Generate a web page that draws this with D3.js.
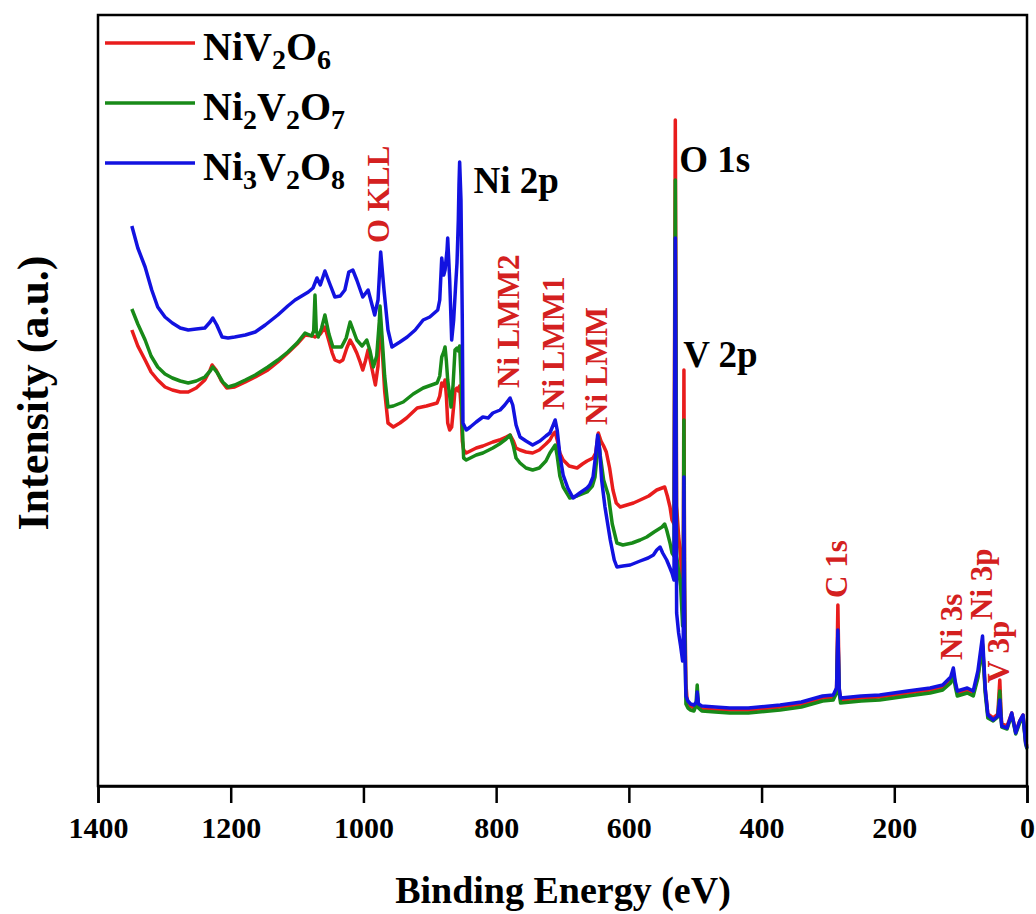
<!DOCTYPE html>
<html><head><meta charset="utf-8">
<script src="https://cdn.jsdelivr.net/npm/d3@7"></script>
<style>body{margin:0;background:#fff}svg{display:block}</style>
</head><body>
<svg id="c" width="1036" height="914"></svg>
<script>
// Binding energy (eV), intensity (a.u.)
const seriesNames = ["NiV2O6", "Ni2V2O7", "Ni3V2O8"];
const xTicks = [1400, 1200, 1000, 800, 600, 400, 200, 0];

const niv2o6 = [[1349,456],[1340,440],[1329,426],[1320,414],[1310,406],[1299,399],[1288,396],[1276,394],[1264,394],[1252,398],[1239,406],[1231,416],[1228,421],[1222,416],[1214,405],[1206,398],[1194,399],[1178,404],[1163,409],[1144,416],[1129,424],[1114,433],[1100,442],[1088,451],[1076,450],[1073,449],[1065,452],[1058,459],[1052,445],[1047,433],[1043,426],[1036,424],[1031,426],[1025,438],[1020,446],[1015,440],[1010,433],[1005,424],[1001,416],[997,425],[993,436],[988,420],[982,401],[978,420],[975,471],[972,440],[968,395],[963,363],[955,359],[945,363],[935,368],[919,378],[905,380],[889,383],[885,390],[882,403],[879,400],[877,406],[875,390],[873,363],[870,356],[867,359],[864,380],[862,396],[859,398],[857,395],[855,400],[853,380],[851,345],[849,336],[845,333],[839,335],[830,338],[820,340],[805,344],[795,346],[785,349],[779,351],[774,345],[770,338],[764,336],[755,334],[745,333],[735,336],[725,342],[719,346],[714,352],[711,354],[708,346],[704,333],[699,326],[690,320],[678,318],[670,322],[663,325],[654,328],[650,333],[646,353],[642,345],[638,340],[634,334],[629,318],[624,296],[619,283],[613,279],[603,281],[593,283],[583,286],[570,290],[558,296],[550,298],[546,299],[542,290],[538,279],[535,266],[532,262],[530,666],[528,280],[525,250],[522,230],[520,200],[518,220],[517,416],[516,200],[514,102],[512,84],[507,80],[502,78],[498,82],[497,90],[495,80],[490,77],[470,76],[448,76],[420,76],[372,79],[340,82],[308,88],[292,89],[287,97],[285,181],[283,97],[281,86],[250,88],[222,89],[180,93],[146,96],[127,99],[115,107],[111,113],[108,102],[105,93],[90,96],[81,93],[74,110],[67,142],[63,97],[59,72],[51,68],[44,72],[41,106],[39,72],[38,62],[30,60],[23,73],[17,54],[11,65],[6,71],[2,44],[0,40]];

const ni2v2o7 = [[1349,477],[1340,462],[1329,446],[1320,430],[1310,419],[1299,412],[1288,408],[1276,405],[1264,403],[1252,405],[1239,409],[1231,415],[1227,419],[1220,413],[1212,404],[1204,399],[1194,401],[1178,406],[1163,411],[1144,419],[1129,426],[1114,434],[1100,443],[1088,453],[1078,450],[1075,455],[1073,491],[1071,455],[1068,449],[1063,458],[1058,471],[1052,452],[1046,439],[1033,439],[1026,448],[1020,464],[1015,455],[1010,446],[1002,440],[995,446],[990,435],[985,419],[980,430],[976,465],[975,480],[972,450],[968,410],[963,379],[955,380],[940,384],[925,392],[910,398],[889,403],[885,410],[882,429],[879,434],[877,439],[875,425],[873,406],[870,390],[868,379],[865,400],[862,436],[859,438],[857,435],[855,440],[853,410],[851,360],[849,328],[845,326],[839,328],[830,331],[820,333],[805,338],[795,342],[785,347],[779,351],[774,340],[770,328],[764,323],[755,318],[745,316],[735,318],[725,325],[719,333],[714,338],[711,341],[708,330],[704,310],[699,299],[689,288],[678,290],[663,294],[655,300],[651,309],[648,330],[646,349],[643,330],[638,306],[631,291],[625,262],[618,243],[609,241],[595,243],[583,246],[573,249],[562,254],[550,259],[546,262],[543,256],[538,243],[535,233],[532,230],[530,606],[528,230],[525,215],[522,200],[519,160],[518,200],[517,366],[516,180],[514,82],[511,78],[507,76],[502,75],[499,80],[497,101],[495,78],[490,75],[470,74],[448,73],[420,73],[372,76],[340,79],[308,85],[292,86],[287,93],[285,152],[283,93],[281,83],[250,85],[222,86],[180,90],[146,93],[127,96],[115,103],[111,111],[108,99],[105,90],[90,93],[81,90],[74,108],[67,140],[63,93],[59,68],[51,65],[44,69],[41,95],[39,67],[38,59],[30,57],[23,71],[17,52],[11,63],[6,69],[2,42],[0,37]];

const ni3v2o8 = [[1349,560],[1340,538],[1329,519],[1319,496],[1310,479],[1299,469],[1288,463],[1276,458],[1264,456],[1252,457],[1239,458],[1231,464],[1227,468],[1221,461],[1213,449],[1204,448],[1194,449],[1178,451],[1163,454],[1148,461],[1129,471],[1114,480],[1103,486],[1093,490],[1083,494],[1076,498],[1070,508],[1065,501],[1058,515],[1050,501],[1043,489],[1035,490],[1028,496],[1022,514],[1016,516],[1010,506],[1001,489],[993,496],[987,481],[983,471],[978,486],[974,534],[969,496],[963,456],[957,439],[945,444],[934,449],[922,456],[910,466],[900,469],[888,476],[885,486],[882,528],[879,511],[877,516],[874,536],[873,548],[870,506],[867,446],[864,466],[861,501],[859,523],[857,566],[856,601],[855,624],[853,586],[851,466],[850,363],[845,356],[839,359],[830,364],[820,369],[812,368],[805,373],[794,376],[787,381],[779,388],[775,381],[770,361],[764,349],[755,345],[745,341],[734,345],[725,350],[719,353],[714,361],[711,366],[708,356],[704,331],[699,311],[692,298],[684,288],[674,293],[663,298],[659,301],[654,309],[650,331],[647,351],[644,336],[641,306],[636,279],[628,246],[622,226],[618,219],[609,220],[598,221],[583,225],[571,228],[563,231],[558,236],[553,239],[549,233],[543,226],[538,218],[535,213],[532,206],[530,548],[528,173],[525,153],[522,140],[519,125],[518,150],[517,309],[516,150],[514,90],[511,85],[507,82],[502,81],[498,84],[497,94],[495,82],[490,80],[470,79],[448,78],[420,78],[372,81],[340,84],[308,90],[292,91],[287,98],[285,156],[283,98],[281,88],[250,90],[222,91],[180,95],[146,98],[127,101],[115,109],[111,118],[108,104],[105,95],[90,98],[81,95],[74,115],[67,150],[63,98],[59,71],[51,66],[44,70],[41,86],[39,67],[38,60],[30,58],[23,73],[17,53],[11,65],[6,71],[2,43],[0,38]];

// peak annotations
const redLabels = [["O KLL",975],["Ni LMM2",779],["Ni LMM1",711],["Ni LMM",646],["C 1s",285],["Ni 3s",111],["Ni 3p",67],["V 3p",41]];
const redLabelLevel = [543,398,376,361,188,126,166,103];
const blackLabels = [["Ni 2p",834],["O 1s",524],["V 2p",518]];
const blackLabelLevel = [593,614,419];

const colors = ["#e81c1c", "#188a18", "#1212e0"];
const labelRed = "#d42020";
const FONT = "'Liberation Serif','Times New Roman',serif";

const svg = d3.select("#c");
const m = {left: 98, right: 1027, top: 15, bottom: 786};
const x = d3.scaleLinear().domain([1400, 0]).range([m.left, m.right]);
const y = d3.scaleLinear().domain([0, 771]).range([m.bottom, m.top]);

const line = d3.line().x(d => x(d[0])).y(d => y(d[1]));
[niv2o6, ni2v2o7, ni3v2o8].forEach((s, i) => {
  svg.append("path").datum(s).attr("d", line)
    .attr("fill", "none").attr("stroke", colors[i])
    .attr("stroke-width", 3.5).attr("stroke-linejoin", "round");
});

// frame
svg.append("rect").attr("x", m.left).attr("y", m.top)
  .attr("width", m.right - m.left).attr("height", m.bottom - m.top)
  .attr("fill", "none").attr("stroke", "#000").attr("stroke-width", 2.5);

// x axis
const ax = svg.append("g").attr("transform", `translate(0,${m.bottom})`)
  .call(d3.axisBottom(x).tickValues(xTicks).tickFormat(d3.format("d")).tickSize(17).tickPadding(14));
ax.select(".domain").attr("stroke-width", 2.5);
ax.selectAll(".tick line").attr("stroke-width", 2.5);
ax.selectAll(".tick text").attr("font-family", FONT).attr("font-weight", "bold")
  .attr("font-size", 30).attr("fill", "#000");

svg.append("text").attr("x", 563).attr("y", 903).attr("text-anchor", "middle")
  .attr("font-family", FONT).attr("font-weight", "bold").attr("font-size", 38)
  .text("Binding Energy (eV)");
svg.append("text").attr("transform", "translate(48,393) rotate(-90)").attr("text-anchor", "middle")
  .attr("font-family", FONT).attr("font-weight", "bold").attr("font-size", 44)
  .text("Intensity (a.u.)");

// red rotated peak labels
redLabels.forEach((d, i) => {
  svg.append("text")
    .attr("transform", `translate(${x(d[1]) + 9},${y(redLabelLevel[i])}) rotate(-90)`)
    .attr("font-family", FONT).attr("font-weight", "bold").attr("font-size", 31)
    .attr("fill", labelRed).text(d[0]);
});
// black labels
blackLabels.forEach((d, i) => {
  svg.append("text").attr("x", x(d[1])).attr("y", y(blackLabelLevel[i]))
    .attr("font-family", FONT).attr("font-weight", "bold").attr("font-size", 37)
    .attr("fill", "#000").text(d[0]);
});

// legend
const legendParts = [
  [["Ni",""],["V",""],["2","s"],["O",""],["6","s"]],
  [["Ni",""],["2","s"],["V",""],["2","s"],["O",""],["7","s"]],
  [["Ni",""],["3","s"],["V",""],["2","s"],["O",""],["8","s"]]
];
seriesNames.forEach((name, i) => {
  const ly = 43 + i * 60;
  svg.append("line").attr("x1", 105).attr("x2", 195).attr("y1", ly).attr("y2", ly)
    .attr("stroke", colors[i]).attr("stroke-width", 3.5);
  const t = svg.append("text").attr("x", 203).attr("y", ly + 17)
    .attr("font-family", FONT).attr("font-weight", "bold").attr("font-size", 40).attr("fill", "#000");
  let shifted = false;
  legendParts[i].forEach(p => {
    const ts = t.append("tspan").text(p[0]);
    if (p[1] === "s") { ts.attr("font-size", 28).attr("dy", shifted ? 0 : 9); shifted = true; }
    else if (shifted) { ts.attr("dy", -9); shifted = false; }
  });
});
</script>
</body></html>
